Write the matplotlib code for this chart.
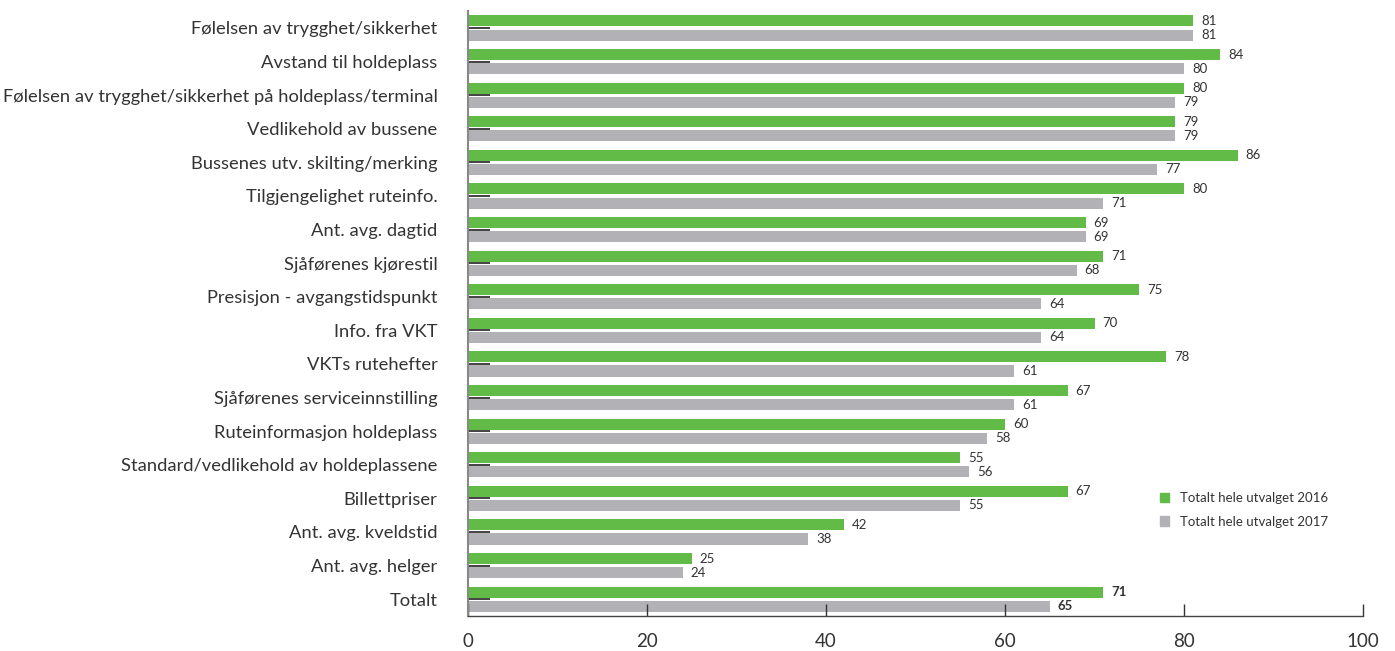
import numpy as np
import matplotlib.pyplot as plt
from matplotlib.patches import Patch

plt.rcParams['font.family'] = ['Lato', 'DejaVu Sans']

categories = ["Følelsen av trygghet/sikkerhet", "Avstand til holdeplass",
              "Følelsen av trygghet/sikkerhet på holdeplass/terminal",
              "Vedlikehold av bussene", "Bussenes utv. skilting/merking",
              "Tilgjengelighet ruteinfo.", "Ant. avg. dagtid",
              "Sjåførenes kjørestil", "Presisjon - avgangstidspunkt",
              "Info. fra VKT", "VKTs rutehefter",
              "Sjåførenes serviceinnstilling", "Ruteinformasjon holdeplass",
              "Standard/vedlikehold av holdeplassene", "Billettpriser",
              "Ant. avg. kveldstid", "Ant. avg. helger", "Totalt"]
vals_2016 = [81, 84, 80, 79, 86, 80, 69, 71, 75, 70, 78, 67, 60, 55, 67, 42, 25, 71]
vals_2017 = [81, 80, 79, 79, 77, 71, 69, 68, 64, 64, 61, 61, 58, 56, 55, 38, 24, 65]
series_names = ["Totalt hele utvalget 2016", "Totalt hele utvalget 2017"]

green = '#62bb46'
grey = '#b2b2b6'
txt = '#333333'

fig = plt.figure(figsize=(13.95, 6.51), dpi=100)
ax = fig.add_axes([0.3355, 0.0538, 0.6416, 0.929])

y = np.arange(len(categories))
off = 0.21
h = 0.33
ax.barh(y - off, vals_2016, height=h, color=green)
ax.barh(y + off, vals_2017, height=h, color=grey)

# value labels right of each bar, Totalt in bold
for i in range(len(categories)):
    bold = 'bold' if categories[i] == "Totalt" else 'normal'
    ax.text(vals_2016[i] + 0.9, y[i] - off, str(vals_2016[i]), va='center', ha='left',
            fontsize=9.5, color=txt, fontweight=bold)
    ax.text(vals_2017[i] + 0.9, y[i] + off, str(vals_2017[i]), va='center', ha='left',
            fontsize=9.5, color=txt, fontweight=bold)

ax.set_xlim(0, 100)
ax.set_ylim(len(categories) - 0.5, -0.5)
ax.set_yticks(y)
ax.set_yticklabels(categories, fontsize=13.2, color=txt)
ax.set_xticks(np.arange(0, 101, 20))
ax.tick_params(axis='y', direction='in', length=16, width=1.2, color='#222222', pad=22)
ax.tick_params(axis='x', direction='in', length=9, width=1, color='#333333', pad=12,
               labelsize=13.5, labelcolor=txt)

for s in ['top', 'right']:
    ax.spines[s].set_visible(False)
ax.spines['left'].set_color('#888888')
ax.spines['left'].set_linewidth(1.5)
ax.spines['bottom'].set_color('#444444')
ax.spines['bottom'].set_linewidth(1)

handles = [Patch(color=green), Patch(color=grey)]
ax.legend(handles, series_names, loc='upper left', bbox_to_anchor=(0.76, 0.225),
          frameon=False, fontsize=9.5, handlelength=0.7, handleheight=0.7,
          handletextpad=0.8, labelspacing=0.9, labelcolor=txt)

fig.savefig('out.png', dpi=100)
